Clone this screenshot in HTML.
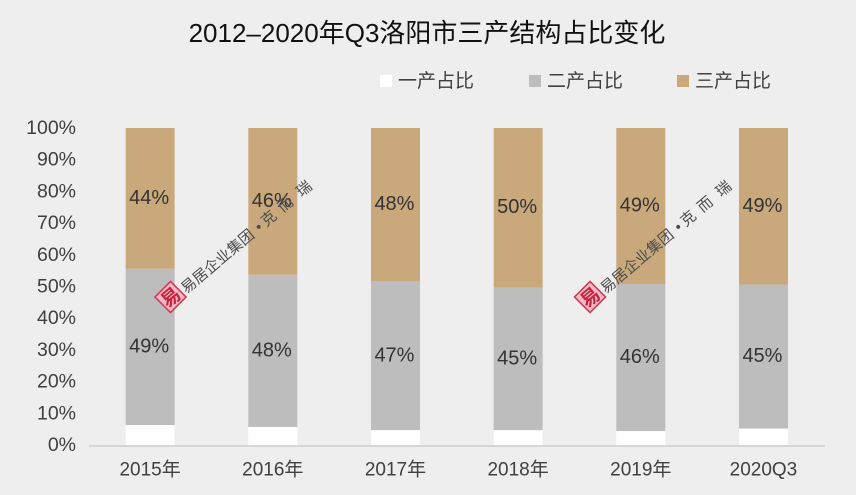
<!DOCTYPE html>
<html lang="zh-CN">
<head>
<meta charset="utf-8">
<title>2012–2020年Q3洛阳市三产结构占比变化</title>
<style>
html,body{margin:0;padding:0;background:#eeeeee;}
svg{display:block;}
text{font-family:"Liberation Sans","Noto Sans CJK SC",sans-serif;}
</style>
</head>
<body>
<svg id="chart" xmlns="http://www.w3.org/2000/svg" width="856" height="495" viewBox="0 0 856 495">
  <rect x="0" y="0" width="856" height="495" fill="#eeeeee"/>
  <text x="427" y="42" text-anchor="middle" font-size="26" fill="#111111">2012–2020年Q3洛阳市三产结构占比变化</text>
  <g>
    <g>
      <rect x="380" y="75" width="12" height="12" fill="#ffffff"/>
      <text x="398" y="87" font-size="19" fill="#404040">一产占比</text>
    </g>
    <g>
      <rect x="529" y="75" width="12" height="12" fill="#bdbdbd"/>
      <text x="547" y="87" font-size="19" fill="#404040">二产占比</text>
    </g>
    <g>
      <rect x="677" y="75" width="12" height="12" fill="#c9a97b"/>
      <text x="695" y="87" font-size="19" fill="#404040">三产占比</text>
    </g>
  </g>
  <g id="y-axis"></g>
  <g id="bars"></g>
  <g id="x-axis"></g>
  <g id="value-labels"></g>
  <g transform="translate(170.5,297) rotate(-40)">
    <rect x="-11" y="-11" width="22" height="22" fill="#eeb9c2" stroke="#d2354f" stroke-width="1.5" transform="rotate(-5)"/>
    <text x="0" y="7" text-anchor="middle" font-size="19" font-weight="bold" fill="#c8243f">易</text>
    <text x="14" y="8" font-size="15" fill="#4d4d4d">易居企业集团<tspan dx="6">•</tspan><tspan dx="3">克</tspan><tspan dx="7">而</tspan><tspan dx="9">瑞</tspan></text>
  </g>
  <g transform="translate(590,297) rotate(-40)">
    <rect x="-11" y="-11" width="22" height="22" fill="#eeb9c2" stroke="#d2354f" stroke-width="1.5" transform="rotate(-5)"/>
    <text x="0" y="7" text-anchor="middle" font-size="19" font-weight="bold" fill="#c8243f">易</text>
    <text x="14" y="8" font-size="15" fill="#4d4d4d">易居企业集团<tspan dx="6">•</tspan><tspan dx="3">克</tspan><tspan dx="7">而</tspan><tspan dx="9">瑞</tspan></text>
  </g>
</svg>
<script>
const categories = ['2015年', '2016年', '2017年', '2018年', '2019年', '2020Q3'];
const primaryShare = [6.3, 5.7, 4.7, 4.7, 4.4, 5.2];
const secondaryShare = [49.3, 48.0, 46.9, 45.0, 46.4, 45.4];
const tertiaryShare = [44.4, 46.3, 48.4, 50.3, 49.2, 49.4];
const yTicks = [0, 10, 20, 30, 40, 50, 60, 70, 80, 90, 100];

const NS = 'http://www.w3.org/2000/svg';
const plotLeft = 89;
const plotRight = 825;
const plotTop = 128;
const plotBottom = 445;
const barWidth = 49;

function yScale(v) {
  return plotBottom - (v / 100) * (plotBottom - plotTop);
}
function xScale(i) {
  return plotLeft + (plotRight - plotLeft) * (i + 0.5) / categories.length - 0.2;
}
function make(tag, attrs, text) {
  const el = document.createElementNS(NS, tag);
  Object.keys(attrs).forEach(function (k) { el.setAttribute(k, attrs[k]); });
  if (text !== undefined) el.textContent = text;
  return el;
}

const yAxisGroup = document.getElementById('y-axis');
yTicks.forEach(function (t) {
  const label = make('text', {x: 76, y: yScale(t) + 6, 'text-anchor': 'end', 'font-size': 19.5, fill: '#404040'}, t + '%');
  
  
  yAxisGroup.appendChild(label);
});

const barsGroup = document.getElementById('bars');
const labelsGroup = document.getElementById('value-labels');
const xAxisGroup = document.getElementById('x-axis');

categories.forEach(function (cat, i) {
  const cx = xScale(i);
  const p = primaryShare[i];
  const s = secondaryShare[i];
  const t = tertiaryShare[i];

  const barP = make('rect', {x: cx - barWidth / 2, y: yScale(p), width: barWidth, height: yScale(0) - yScale(p), fill: '#ffffff'});
  
  
  barsGroup.appendChild(barP);

  const barS = make('rect', {x: cx - barWidth / 2, y: yScale(p + s), width: barWidth, height: yScale(p) - yScale(p + s), fill: '#bdbdbd'});
  
  
  barsGroup.appendChild(barS);

  const barT = make('rect', {x: cx - barWidth / 2, y: yScale(p + s + t), width: barWidth, height: yScale(p + s) - yScale(p + s + t), fill: '#c9a97b'});
  
  
  barsGroup.appendChild(barT);

  const labelS = make('text', {x: cx - 1, y: yScale(p + s / 2) + 5.5, 'text-anchor': 'middle', 'font-size': 20, fill: '#333333'}, Math.round(s) + '%');
  
  
  labelsGroup.appendChild(labelS);

  const labelT = make('text', {x: cx - 1, y: yScale(p + s + t / 2) + 5.5, 'text-anchor': 'middle', 'font-size': 20, fill: '#333333'}, Math.round(t) + '%');
  
  
  labelsGroup.appendChild(labelT);

  const tick = make('text', {x: cx, y: 475.5, 'text-anchor': 'middle', 'font-size': 19, fill: '#404040'}, cat);
  
  
  xAxisGroup.appendChild(tick);
});

const axisLine = make('line', {x1: plotLeft, x2: plotRight, y1: plotBottom + 1, y2: plotBottom + 1, stroke: '#d6d6d6', 'stroke-width': 2});


xAxisGroup.appendChild(axisLine);
</script>
</body>
</html>
